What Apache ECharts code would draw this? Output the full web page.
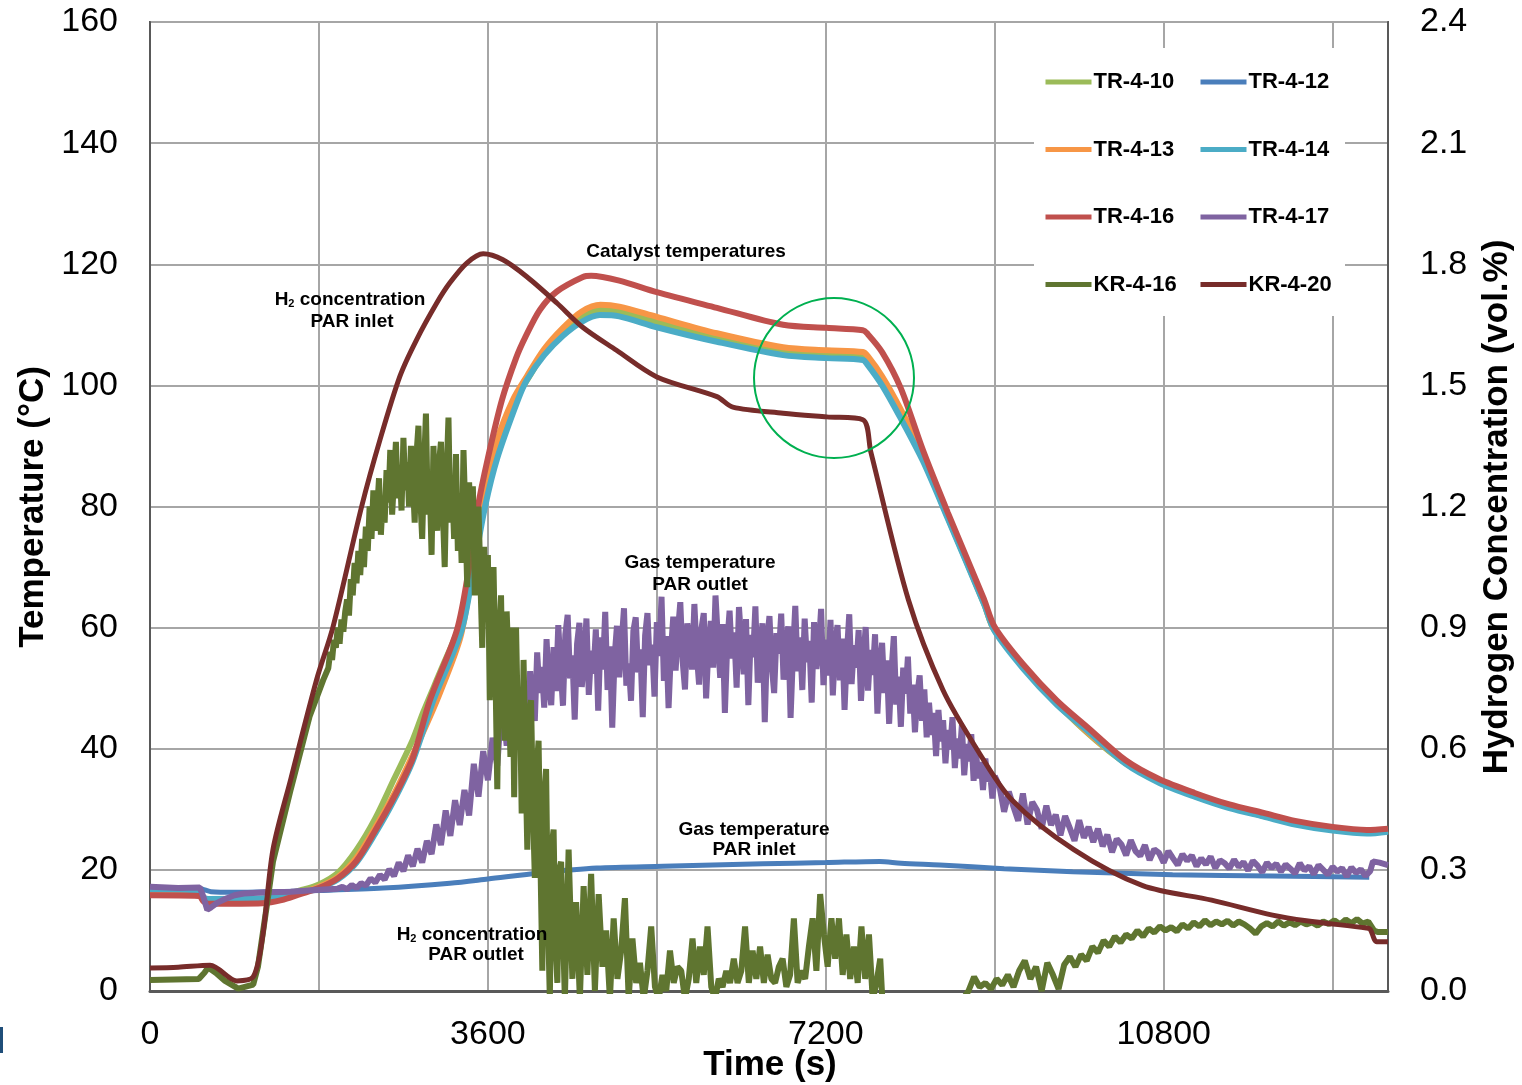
<!DOCTYPE html>
<html>
<head>
<meta charset="utf-8">
<title>PAR temperatures and hydrogen concentration</title>
<script src="https://cdn.jsdelivr.net/npm/echarts@6.0.0/dist/echarts.min.js"></script>
<style>
html, body { margin: 0; padding: 0; background: #fff; }
#chart { width: 1522px; height: 1085px; }
</style>
</head>
<body>
<div id="chart"></div>
<script>
// x axis: time in s, labels only every 3600, grid every 1800
var xTickLabels = [0, 3600, 7200, 10800];

// catalyst temperatures (degC), [t, value]
var tr410 = [[0,16.5],[520,16.3],[570,15.4],[620,15.1],[1200,15.2],[1400,15.8],[1600,16.6],[1800,17.6],[2000,19.5],[2200,23.3],[2400,28.5],[2600,35],[2800,41.5],[2910,46],[3100,53],[3300,60.5],[3450,70],[3540,79],[3700,90],[3866,97],[4015,100.8],[4200,105.3],[4400,108.8],[4600,111.4],[4800,112.5],[5000,112.2],[5400,110.5],[6040,107.8],[6745,105.5],[7210,105],[7595,104.8],[7650,104.1],[7800,100.8],[8000,95.4],[8235,88],[8500,78.2],[8888,63.9],[9000,59.5],[9660,47.5],[10395,37.6],[11130,32.2],[11865,28.9],[12600,26.7],[12965,26.2],[13190,26.4]];
var tr413 = [[0,16.6],[520,16.4],[570,15.4],[620,15.1],[1200,15.2],[1400,15.6],[1600,16.2],[1800,17.2],[2000,18.8],[2200,22],[2400,27],[2600,32.5],[2800,39],[3057,48],[3300,58],[3400,66],[3536,80],[3700,91],[3866,97.6],[4015,101.5],[4200,106],[4400,109.5],[4600,112.2],[4800,113.3],[5000,113],[5400,111.3],[6040,108.6],[6745,106.3],[7210,105.8],[7595,105.5],[7650,104.8],[7800,101.5],[8000,96],[8235,88.6],[8500,78.5],[8888,64],[9000,59.6],[9660,47.6],[10395,37.7],[11130,32.3],[11865,29],[12600,26.8],[12965,26.3],[13190,26.5]];
var tr414 = [[0,16.8],[520,16.6],[570,15.5],[620,15.2],[1200,15.3],[1400,15.6],[1600,16.2],[1800,17],[2000,18.4],[2200,21.2],[2400,26],[2600,31.5],[2800,38],[3020,48],[3320,59.6],[3450,70],[3570,80],[3700,88],[3920,97.6],[4015,100.9],[4200,105],[4400,108.2],[4600,110.5],[4793,111.6],[5000,111.4],[5400,109.6],[6040,107.2],[6745,105],[7210,104.5],[7595,104.2],[7640,103.5],[7800,100],[8000,94.5],[8235,87.5],[8500,78],[8888,63.8],[9000,59.4],[9300,53.3],[9660,47.3],[10000,42.8],[10395,37.5],[10750,34.4],[11130,32.1],[11500,30.2],[11865,28.8],[12200,27.5],[12600,26.5],[12965,26],[13190,26.3]];
var tr416 = [[0,15.8],[520,15.7],[570,14.8],[620,14.4],[1200,14.5],[1400,15],[1600,16],[1800,17],[2000,18.6],[2200,21.5],[2400,26.5],[2600,32],[2800,38.5],[2982,48],[3270,59.6],[3400,70],[3494,80],[3600,88],[3750,97.6],[3900,104.5],[4000,108],[4155,112.5],[4335,115.5],[4612,117.9],[4700,118.1],[5000,117.3],[5400,115.4],[6040,112.8],[6745,110],[7210,109.5],[7595,109.1],[7640,108.6],[7800,105.5],[8000,99.5],[8235,89.3],[8500,79],[8888,64.6],[9000,60.1],[9300,54],[9660,48],[10000,43.4],[10395,38.1],[10750,35],[11130,32.7],[11500,30.8],[11865,29.4],[12200,28.1],[12600,27.1],[12965,26.6],[13190,26.8]];

// gas temperature PAR inlet (degC)
var tr412 = [[0,17],[500,17],[560,16.8],[650,16.4],[900,16.3],[1300,16.4],[1800,16.6],[2485,17],[3195,17.8],[3600,18.5],[4155,19.5],[4760,20.3],[5465,20.6],[6530,21],[7200,21.2],[7775,21.4],[8000,21.1],[8415,20.8],[9100,20.2],[9830,19.7],[10895,19.2],[11960,19],[12990,18.8]];

// gas temperature PAR outlet (degC)
var tr417Head = [[0,17.2],[300,17],[530,17.1],[570,15.5],[610,13.4],[650,13.8],[720,14.6],[800,15.2],[900,15.8],[1000,16.1],[1245,16.3],[1500,16.4],[1800,16.7],[2000,16.9]];
// 2050..3750 every 50 s
var tr417A = [
  17.2,16.8,17.5,17.0,17.8,17.4,18.6,17.9,19.2,18.4,
  20.1,19.0,21.2,19.8,22.4,20.6,23.5,21.2,24.8,22.6,
  27.5,24.1,29.8,25.6,31.5,27.4,33.2,29.0,37.5,32.1,
  39.6,34.8,41.8,37.2,48.5
];
// 3800..9000 every 25 s
var tr417B = [
  40.5,44.2,38.9,47.8,43.1,50.2,45.6,41.8,49.9,46.3,52.8,47.1,44.6,55.9,49.2,53.5,46.8,58.1,50.4,47.2,
  56.8,49.5,60.4,53.2,47.1,58.9,62.1,51.6,55.4,44.8,57.3,60.8,50.2,54.7,61.5,48.9,56.2,52.4,59.7,46.3,
  58.4,53.1,62.6,49.7,56.9,43.5,55.2,60.3,51.8,57.6,63.2,50.4,54.1,47.9,59.5,61.7,52.6,56.4,45.2,58.7,
  62.4,53.8,57.2,48.6,60.9,55.3,65.1,51.2,58.6,46.7,56.1,61.8,52.9,59.4,64.2,54.5,49.8,60.7,57.3,53.1,
  63.9,55.7,50.6,59.8,62.4,48.3,56.8,61.1,53.4,65.3,58.2,51.7,60.6,45.9,57.4,62.8,54.9,59.2,50.1,63.4,
  57.6,52.3,61.4,47.2,58.8,55.1,63.5,50.9,56.3,60.7,44.4,57.9,61.9,53.6,49.2,59.1,55.7,62.3,51.4,57.0,
  60.2,45.1,55.6,63.6,52.8,58.4,49.7,61.5,54.3,57.8,47.6,60.9,53.2,56.7,63.1,50.5,58.0,52.1,61.3,48.8,
  56.9,60.4,51.3,58.2,46.4,55.8,62.2,50.7,57.1,53.4,59.6,47.9,54.8,60.1,49.6,56.3,52.2,58.9,45.8,53.7,
  57.5,49.2,54.6,44.1,52.8,58.6,47.3,51.9,43.6,53.4,49.1,55.2,45.8,50.6,42.7,48.9,52.1,44.6,49.8,41.9,
  47.6,42.3,45.9,38.8,46.4,41.2,44.7,37.6,43.1,39.9,45.2,36.8,41.7,38.4,43.9,35.6,40.8,37.9,42.4,34.7,
  39.6,35.1,37.8,33.2,38.4,34.6,36.2,31.8,35.5
];
// 9050..13000 every 50 s
var tr417C = [
  33.8,29.6,32.9,30.4,28.1,32.6,27.5,31.2,29.9,26.8,
  30.6,27.4,29.1,25.7,28.9,26.9,24.8,28.2,25.3,27.1,
  24.6,26.8,23.9,25.8,22.9,25.1,24.2,22.4,24.9,23.1,
  22.3,24.1,21.6,23.4,22.8,21.2,23.1,21.9,20.8,22.6,
  21.5,22.4,20.6,21.9,20.9,22.2,20.3,21.6,21.1,20.2,
  21.7,20.5,21.3,19.9,21.5,20.7,19.6,21.2,20.3,21.0,
  19.7,20.9,20.2,19.4,21.1,19.9,20.6,19.3,20.8,20.0,
  19.2,20.5,19.7,20.3,18.9,20.4,19.5,20.1,19.0,19.8
];
var tr417Tail = [[13030,21.4],[13100,21.2],[13190,20.8]];

// H2 concentration PAR inlet (vol.%)
var kr420 = [[0,0.057],[300,0.059],[640,0.064],[925,0.025],[1100,0.035],[1200,0.135],[1310,0.35],[1500,0.525],[1775,0.771],[1950,0.902],[2255,1.2],[2450,1.365],[2663,1.523],[2840,1.613],[3055,1.704],[3195,1.754],[3375,1.803],[3550,1.826],[3760,1.811],[4015,1.769],[4335,1.704],[4610,1.644],[4970,1.587],[5400,1.521],[6040,1.472],[6210,1.446],[6745,1.431],[7210,1.422],[7595,1.415],[7680,1.335],[8080,0.969],[8447,0.746],[8815,0.597],[9183,0.473],[9843,0.35],[10577,0.261],[11311,0.225],[11960,0.188],[12320,0.174],[12960,0.156],[13000,0.153],[13070,0.122],[13190,0.122]];

// H2 concentration PAR outlet (vol.%)
var kr416Head = [[0,0.027],[520,0.03],[580,0.045],[620,0.058],[700,0.045],[800,0.025],[940,0.006],[1100,0.016],[1150,0.06],[1250,0.22],[1310,0.32],[1500,0.5],[1700,0.68],[1845,0.77]];
// 1900..4380 every 20 s
var kr416A = [
  0.80,0.84,0.82,0.87,0.85,0.90,0.86,0.92,0.89,0.94,
  0.97,0.93,1.02,0.98,1.06,1.01,1.09,1.03,1.12,1.05,
  1.15,1.09,1.20,1.12,1.24,1.14,1.19,1.27,1.13,1.22,
  1.16,1.29,1.21,1.34,1.18,1.27,1.36,1.22,1.30,1.19,
  1.37,1.24,1.31,1.20,1.35,1.27,1.16,1.33,1.40,1.22,
  1.12,1.30,1.43,1.18,1.26,1.08,1.35,1.21,1.14,1.31,
  1.36,1.19,1.05,1.28,1.42,1.16,1.25,1.12,1.33,1.09,
  1.22,1.06,1.34,1.18,1.00,1.26,1.12,1.25,0.98,1.15,
  1.20,1.02,0.85,1.10,0.94,1.08,0.72,0.98,1.05,0.80,
  0.50,0.88,0.98,0.70,0.62,0.94,0.81,0.58,0.90,0.48,
  0.90,0.66,0.75,0.44,0.82,0.58,0.35,0.69,0.72,0.45,
  0.28,0.55,0.62,0.32,0.05,0.48,0.55,0.18,-0.02,0.36,
  0.40,0.12,0.02,0.30,0.32
];
var kr416Rest = [
  [4420,-0.02],[4460,0.35],[4500,0.03],[4540,0.22],[4580,-0.02],[4620,0.26],[4660,0.04],
  [4700,0.29],[4740,0.0],[4780,0.24],[4820,0.06],[4860,0.15],[4900,-0.02],[4940,0.18],[4980,0.03],[5020,0.10],[5060,0.23],
  [5100,-0.02],[5140,0.13],[5180,0.02],[5220,0.07],[5260,-0.02],[5300,0.05],[5340,0.16],[5380,0.01],[5420,-0.02],[5460,0.04],
  [5500,0.0],[5540,0.10],[5580,0.02],[5620,0.06],[5660,0.05],[5700,-0.02],[5740,0.03],[5780,0.13],[5820,0.02],[5860,0.11],
  [5900,0.04],[5940,0.16],[5980,0.01],[6020,-0.02],[6060,0.03],[6100,0.01],[6140,0.05],[6180,0.02],[6220,0.08],[6260,0.02],
  [6300,0.05],[6340,0.16],[6380,0.02],[6420,0.10],[6460,0.03],[6500,0.11],[6540,0.02],[6580,0.09],[6620,0.03],[6660,0.02],
  [6700,0.06],[6740,0.08],[6780,0.01],[6820,0.04],[6860,0.18],[6900,0.02],[6940,0.05],[6980,0.03],[7020,0.11],[7060,0.18],
  [7100,0.05],[7140,0.24],[7180,0.14],[7220,0.06],[7260,0.18],[7300,0.08],[7340,0.18],[7380,0.04],[7420,0.14],[7460,0.03],
  [7500,0.11],[7540,0.02],[7580,0.16],[7620,0.03],[7660,0.14],[7700,-0.02],[7740,0.02],[7780,0.08],
  [7820,-0.1],[8640,-0.1],
  [8660,-0.02],[8720,0.0],[8780,0.035],[8840,0.01],[8900,0.02],[8960,0.005],[9020,0.03],[9080,0.015],[9140,0.04],[9200,0.01],
  [9260,0.05],[9320,0.075],[9380,0.03],[9440,0.06],[9500,0.0],[9560,0.07],[9620,0.04],[9680,0.005],[9740,0.065],[9800,0.085],
  [9860,0.06],[9920,0.09],[9980,0.075],[10040,0.11],[10100,0.095],[10160,0.125],[10220,0.11],[10280,0.135],[10340,0.12],[10400,0.14],
  [10460,0.13],[10520,0.15],[10580,0.135],[10640,0.155],[10700,0.145],[10760,0.16],[10820,0.15],[10880,0.158],[10940,0.148],[11000,0.165],
  [11060,0.155],[11120,0.17],[11180,0.16],[11240,0.175],[11300,0.163],[11360,0.172],[11420,0.165],[11480,0.174],[11540,0.162],[11600,0.172],
  [11660,0.165],[11720,0.155],[11780,0.142],[11840,0.16],[11900,0.168],[11960,0.16],[12020,0.172],[12080,0.162],[12140,0.17],[12200,0.163],
  [12260,0.172],[12320,0.165],[12380,0.17],[12440,0.162],[12500,0.172],[12560,0.166],[12620,0.175],[12680,0.165],[12740,0.177],[12800,0.168],
  [12860,0.178],[12920,0.167],[12980,0.172],[13040,0.15],[13080,0.146],[13190,0.146]
];

var legendCol1 = ['TR-4-10', 'TR-4-13', 'TR-4-16', 'KR-4-16'];
var legendCol2 = ['TR-4-12', 'TR-4-14', 'TR-4-17', 'KR-4-20'];

var FONT = "'Liberation Sans', Arial, sans-serif";

function seq(start, step, vals) {
  return vals.map(function (v, i) { return [start + i * step, v]; });
}

var tr417 = tr417Head.concat(seq(2050, 50, tr417A), seq(3800, 25, tr417B), seq(9050, 50, tr417C), tr417Tail);
var kr416 = kr416Head.concat(seq(1900, 20, kr416A), kr416Rest);

function line(name, data, color, yIndex, smooth, width) {
  return {
    name: name, type: 'line', data: data, yAxisIndex: yIndex || 0,
    symbol: 'none', showSymbol: false, silent: true,
    smooth: smooth ? 0.3 : false,
    lineStyle: { color: color, width: width || 6 },
    itemStyle: { color: color },
    emphasis: { disabled: true }
  };
}

function txt(x, y, text, size, rot) {
  return {
    type: 'text', x: x, y: y, z: 10, rotation: rot || 0, silent: true,
    style: {
      text: text, fill: '#000', font: 'bold ' + size + 'px ' + FONT,
      textAlign: 'center', textVerticalAlign: 'middle',
      rich: {
        b: { font: 'bold ' + size + 'px ' + FONT, fill: '#000' },
        s: { font: 'bold 11px ' + FONT, fill: '#000', verticalAlign: 'bottom' }
      }
    }
  };
}

var legendBase = {
  orient: 'vertical', top: 66, itemWidth: 46, itemHeight: 22, itemGap: 45.5,
  selectedMode: false, z: 5,
  lineStyle: { width: 5 },
  itemStyle: { opacity: 0 },
  textStyle: { fontFamily: FONT, fontSize: 22, fontWeight: 'bold', color: '#000', padding: [0, 0, 0, -3] }
};

var chart = echarts.init(document.getElementById('chart'));
var option = {
  animation: false,
  backgroundColor: '#fff',
  grid: { left: 150, right: 134, top: 22, bottom: 94, show: true, borderColor: '#595959', borderWidth: 2 },
  legend: [
    Object.assign({}, legendBase, { left: 1038, data: legendCol1 }),
    Object.assign({}, legendBase, { left: 1193, data: legendCol2 })
  ],
  xAxis: {
    type: 'value', min: 0, max: 13190, interval: 1800,
    axisLine: { lineStyle: { color: '#595959', width: 3 } },
    axisTick: { show: false },
    splitLine: { lineStyle: { color: '#a6a6a6', width: 2 } },
    axisLabel: {
      margin: 27, fontFamily: FONT, fontSize: 34, color: '#000',
      formatter: function (v) { return xTickLabels.indexOf(v) >= 0 ? String(v) : ''; }
    }
  },
  yAxis: [
    {
      type: 'value', min: 0, max: 160, interval: 20,
      axisLine: { show: true, lineStyle: { color: '#595959', width: 2 } },
      axisTick: { show: false },
      splitLine: { lineStyle: { color: '#a6a6a6', width: 2 } },
      axisLabel: { margin: 32, fontFamily: FONT, fontSize: 34, color: '#000' }
    },
    {
      type: 'value', position: 'right', min: 0, max: 2.4, interval: 0.3,
      axisLine: { show: true, lineStyle: { color: '#595959', width: 2 } },
      axisTick: { show: false },
      splitLine: { show: false },
      axisLabel: {
        margin: 32, fontFamily: FONT, fontSize: 34, color: '#000',
        formatter: function (v) { return v.toFixed(1); }
      }
    }
  ],
  series: [
    line('TR-4-10', tr410, '#9bbb59', 0, true),
    line('TR-4-12', tr412, '#4a7ebb', 0, true, 5),
    line('TR-4-13', tr413, '#f79646', 0, true),
    line('TR-4-14', tr414, '#4bacc6', 0, true),
    line('TR-4-16', tr416, '#c0504d', 0, true),
    line('TR-4-17', tr417, '#7f63a1', 0, false, 6),
    line('KR-4-16', kr416, '#5f7530', 1, false, 6),
    line('KR-4-20', kr420, '#772c2a', 1, true, 5)
  ],
  graphic: [
    { type: 'rect', z: 3, silent: true, shape: { x: 1034, y: 48, width: 311, height: 268 }, style: { fill: '#fff' } },
    { type: 'circle', z: 10, silent: true, shape: { cx: 834, cy: 378, r: 80 }, style: { fill: 'none', stroke: '#00b050', lineWidth: 2 } },
    txt(686, 252, 'Catalyst temperatures', 19),
    txt(350, 300, '{b|H}{s|2}{b| concentration}', 19),
    txt(352, 322, 'PAR inlet', 19),
    txt(700, 563, 'Gas temperature', 19),
    txt(700, 585, 'PAR outlet', 19),
    txt(754, 830, 'Gas temperature', 19),
    txt(754, 850, 'PAR inlet', 19),
    txt(472, 935, '{b|H}{s|2}{b| concentration}', 19),
    txt(476, 955, 'PAR outlet', 19),
    txt(33, 507, 'Temperature (°C)', 35, Math.PI / 2),
    txt(1497, 507, 'Hydrogen Concentration (vol.%)', 35, Math.PI / 2),
    txt(770, 1065, 'Time (s)', 35),
    { type: 'rect', silent: true, shape: { x: 0, y: 1027, width: 3, height: 26 }, style: { fill: '#1f4e79' } }
  ]
};
chart.setOption(option);
</script>
</body>
</html>
